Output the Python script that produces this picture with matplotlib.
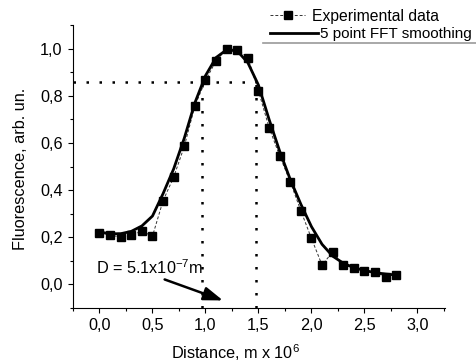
import numpy as np
import matplotlib.pyplot as plt
from matplotlib.lines import Line2D

plt.rcParams['font.family'] = ['Liberation Sans', 'DejaVu Sans']
plt.rcParams['font.size'] = 11.7

# --- dane ---
dist = [0.0, 0.1, 0.2, 0.3, 0.4, 0.5, 0.6, 0.7, 0.8, 0.9,
        1.0, 1.1, 1.2, 1.3, 1.4, 1.5, 1.6, 1.7, 1.8, 1.9,
        2.0, 2.1, 2.2, 2.3, 2.4, 2.5, 2.6, 2.7, 2.8]
fluor_exp = [0.22, 0.21, 0.20, 0.21, 0.225, 0.205, 0.355, 0.455, 0.585, 0.757,
             0.865, 0.948, 1.0, 0.995, 0.962, 0.82, 0.665, 0.545, 0.435, 0.312,
             0.195, 0.082, 0.138, 0.083, 0.068, 0.057, 0.052, 0.032, 0.039]
fluor_smooth = [0.222, 0.215, 0.215, 0.225, 0.248, 0.29, 0.385, 0.49, 0.62, 0.77,
                0.885, 0.962, 0.995, 0.99, 0.94, 0.845, 0.7, 0.565, 0.445, 0.34,
                0.245, 0.17, 0.12, 0.09, 0.071, 0.059, 0.05, 0.044, 0.04]

x_left, x_right = 0.97, 1.48   # granice szerokosci D
y_level = 0.858

fig = plt.figure(figsize=(4.76, 3.63), dpi=100)
ax = fig.add_axes([73 / 476, 55 / 363, 372 / 476, 283 / 363])

ax.plot(dist, fluor_exp, color='#333333', ls=(0, (3, 2)), lw=0.7,
        marker='s', ms=5.8, mfc='black', mec='black')
ax.plot(dist, fluor_smooth, color='black', lw=2.0)

dots = (0, (1, 4.2))
ax.plot([-0.25, x_right], [y_level, y_level], color='black', lw=1.8, ls=dots)
ax.plot([x_left, x_left], [-0.1, y_level], color='black', lw=1.8, ls=dots)
ax.plot([x_right, x_right], [-0.1, y_level], color='black', lw=1.8, ls=dots)

ax.annotate('', xy=(1.19, -0.072), xytext=(0.59, 0.025),
            arrowprops=dict(arrowstyle='-|>,head_length=1.0,head_width=0.35',
                            color='black', lw=1.8))
ax.text(-0.03, 0.07, r'D = 5.1x10$^{\mathregular{-7}}$m', ha='left', va='center')

ax.set_xlim(-0.25, 3.26)
ax.set_ylim(-0.1, 1.1)
ax.set_xticks([0.0, 0.5, 1.0, 1.5, 2.0, 2.5, 3.0])
ax.set_xticklabels(['0,0', '0,5', '1,0', '1,5', '2,0', '2,5', '3,0'])
ax.set_xticks(np.arange(-0.25, 3.3, 0.25), minor=True)
ax.set_yticks([0.0, 0.2, 0.4, 0.6, 0.8, 1.0])
ax.set_yticklabels(['0,0', '0,2', '0,4', '0,6', '0,8', '1,0'])
ax.set_yticks(np.arange(-0.1, 1.11, 0.1), minor=True)
ax.tick_params(which='major', length=3.5, width=0.8, pad=4)
ax.tick_params(which='minor', length=2, width=0.8)
for s in ['top', 'right']:
    ax.spines[s].set_visible(False)
for s in ['left', 'bottom']:
    ax.spines[s].set_linewidth(0.8)

ax.set_xlabel(r'Distance, m x 10$^{\mathregular{6}}$')
ax.xaxis.set_label_coords(0.438, -0.157)
ax.xaxis.label.set_verticalalignment('center')
ax.set_ylabel('Fluorescence, arb. un.')
ax.yaxis.set_label_coords(-0.14, 0.491)
ax.yaxis.label.set_verticalalignment('center')

# legenda rysowana recznie (poza osiami, jak w oryginale)
fig.add_artist(Line2D([270 / 476, 305 / 476], [1 - 15 / 363] * 2, color='#333333',
                      ls=(0, (3, 2)), lw=0.7))
fig.add_artist(Line2D([287.5 / 476], [1 - 15 / 363], color='black', marker='s', ms=5.5))
fig.text(312 / 476, 1 - 16 / 363, 'Experimental data', ha='left', va='center',
         fontsize=11.3)
fig.add_artist(Line2D([270 / 476, 318 / 476], [1 - 33 / 363] * 2, color='black', lw=2.0))
fig.text(320 / 476, 1 - 34 / 363, '5 point FFT smoothing', ha='left', va='center',
         fontsize=11.0)
fig.add_artist(Line2D([263 / 476, 1.0], [1 - 43 / 363] * 2, color='#999999', lw=1.2))

fig.savefig('out.png', dpi=100)
